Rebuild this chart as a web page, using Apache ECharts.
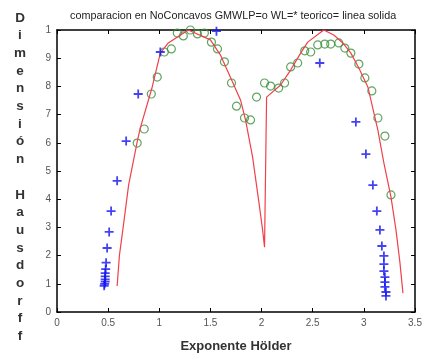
<!DOCTYPE html>
<html>
<head>
<meta charset="utf-8">
<script src="https://cdn.jsdelivr.net/npm/echarts@6/dist/echarts.min.js"></script>
<style>
  html, body { margin: 0; padding: 0; background: #fff; }
  #chart { width: 425px; height: 358px; }
</style>
</head>
<body>
<div id="chart"></div>
<script>
// teorico (linea solida)
var teoricoX = [0.588, 0.610, 0.647, 0.700, 0.784, 0.814, 0.931, 1.010, 1.088, 1.284, 1.500, 1.598, 1.716, 1.794, 1.843, 1.912, 1.971, 2.010, 2.029,
  2.049, 2.186, 2.284, 2.382, 2.451, 2.608, 2.706, 2.794, 2.873, 2.951, 3.039, 3.137, 3.196, 3.265, 3.314, 3.353, 3.382];
var teoricoY = [0.092, 0.200, 0.301, 0.450, 0.603, 0.652, 0.798, 0.918, 0.954, 1.000, 0.965, 0.911, 0.816, 0.752, 0.681, 0.550, 0.397, 0.291, 0.230,
  0.762, 0.805, 0.858, 0.918, 0.957, 1.000, 0.982, 0.954, 0.918, 0.865, 0.798, 0.645, 0.528, 0.408, 0.291, 0.174, 0.067];

// GMWLP = o
var gmwlpX = [0.784, 0.853, 0.922, 0.980, 1.049, 1.118, 1.176, 1.235, 1.304, 1.373, 1.441, 1.510, 1.569, 1.637, 1.706, 1.755,
  1.833, 1.892, 1.951, 2.029, 2.088, 2.167, 2.225, 2.284, 2.353, 2.422, 2.480, 2.549, 2.618, 2.676, 2.755, 2.814, 2.873,
  2.951, 3.010, 3.078, 3.137, 3.206, 3.265];
var gmwlpY = [0.599, 0.649, 0.773, 0.833, 0.922, 0.933, 0.989, 0.979, 1.000, 0.986, 0.989, 0.957, 0.933, 0.887, 0.812, 0.730,
  0.688, 0.681, 0.762, 0.812, 0.801, 0.794, 0.812, 0.869, 0.883, 0.926, 0.922, 0.947, 0.950, 0.950, 0.954, 0.936, 0.918,
  0.879, 0.830, 0.784, 0.688, 0.624, 0.415];

// WL = *
var wlX = [0.461, 0.466, 0.471, 0.471, 0.471, 0.471, 0.476, 0.480, 0.490, 0.510, 0.529, 0.588, 0.676, 0.794, 1.010, 1.559,
  2.569, 2.922, 3.020, 3.088, 3.127, 3.157, 3.176, 3.196, 3.196, 3.196, 3.206, 3.206, 3.206, 3.216, 3.216];
var wlY = [0.093, 0.100, 0.108, 0.116, 0.126, 0.138, 0.152, 0.175, 0.227, 0.284, 0.358, 0.465, 0.606, 0.773, 0.922, 0.996,
  0.883, 0.674, 0.560, 0.450, 0.358, 0.291, 0.234, 0.199, 0.170, 0.145, 0.124, 0.106, 0.089, 0.071, 0.057];

var yTickLabels = ['0', '1', '2', '3', '4', '5', '6', '7', '8', '9', '1'];

function zip(xs, ys) {
  return xs.map(function (x, i) { return [x, ys[i]]; });
}

var font = 'Liberation Sans, Arial, sans-serif';
var chart = echarts.init(document.getElementById('chart'));

var axisCommon = {
  type: 'value',
  splitLine: { show: false },
  axisLine: { show: true, onZero: false, lineStyle: { color: '#000', width: 1.5 } },
  axisTick: { show: true, inside: true, length: 4, lineStyle: { color: '#000' } }
};

chart.setOption({
  animation: false,
  backgroundColor: '#fff',
  grid: { left: 57, right: 10, top: 30, bottom: 46 },
  graphic: [
    {
      type: 'text', left: 70, top: 11,
      style: { text: 'comparacion en NoConcavos GMWLP=o WL=* teorico= linea solida', font: '10.8px ' + font, fill: '#222' }
    },
    {
      type: 'text', x: 20, y: 9,
      style: {
        text: 'Dimensión'.split('').join('\n') + '\n\n' + 'Hausdorff'.split('').join('\n'),
        font: 'bold 13.5px ' + font, fill: '#333', textAlign: 'center', lineHeight: 17.7
      }
    }
  ],
  xAxis: [
    Object.assign({}, axisCommon, {
      position: 'bottom', min: 0, max: 3.5, interval: 0.5,
      axisLabel: { color: '#555', fontSize: 10, fontFamily: font, margin: 6 },
      name: 'Exponente Hölder', nameLocation: 'middle', nameGap: 28,
      nameTextStyle: { color: '#333', fontSize: 13, fontWeight: 'bold', fontFamily: font }
    }),
    Object.assign({}, axisCommon, {
      position: 'top', min: 0, max: 3.5, interval: 0.5,
      axisLabel: { show: false }
    })
  ],
  yAxis: [
    Object.assign({}, axisCommon, {
      position: 'left', min: 0, max: 1, interval: 0.1,
      axisLabel: {
        color: '#555', fontSize: 10, fontFamily: font, margin: 6,
        formatter: function (v) { return yTickLabels[Math.round(v * 10)]; }
      }
    }),
    Object.assign({}, axisCommon, {
      position: 'right', min: 0, max: 1, interval: 0.1,
      axisLabel: { show: false }
    })
  ],
  series: [
    {
      name: 'teorico', type: 'line', data: zip(teoricoX, teoricoY),
      showSymbol: false, symbol: 'none',
      lineStyle: { color: '#f0404a', width: 1.2 }, z: 3
    },
    {
      name: 'GMWLP', type: 'scatter', data: zip(gmwlpX, gmwlpY),
      symbol: 'circle', symbolSize: 8,
      itemStyle: { color: 'rgba(0,0,0,0)', borderColor: '#3a8f3a', borderWidth: 1.2 }, z: 2
    },
    {
      name: 'WL', type: 'scatter', data: zip(wlX, wlY),
      symbol: 'path://M4,0H6V4H10V6H6V10H4V6H0V4H4Z', symbolSize: 9,
      itemStyle: { color: '#1414f0' }, z: 4
    }
  ]
});
</script>
</body>
</html>
